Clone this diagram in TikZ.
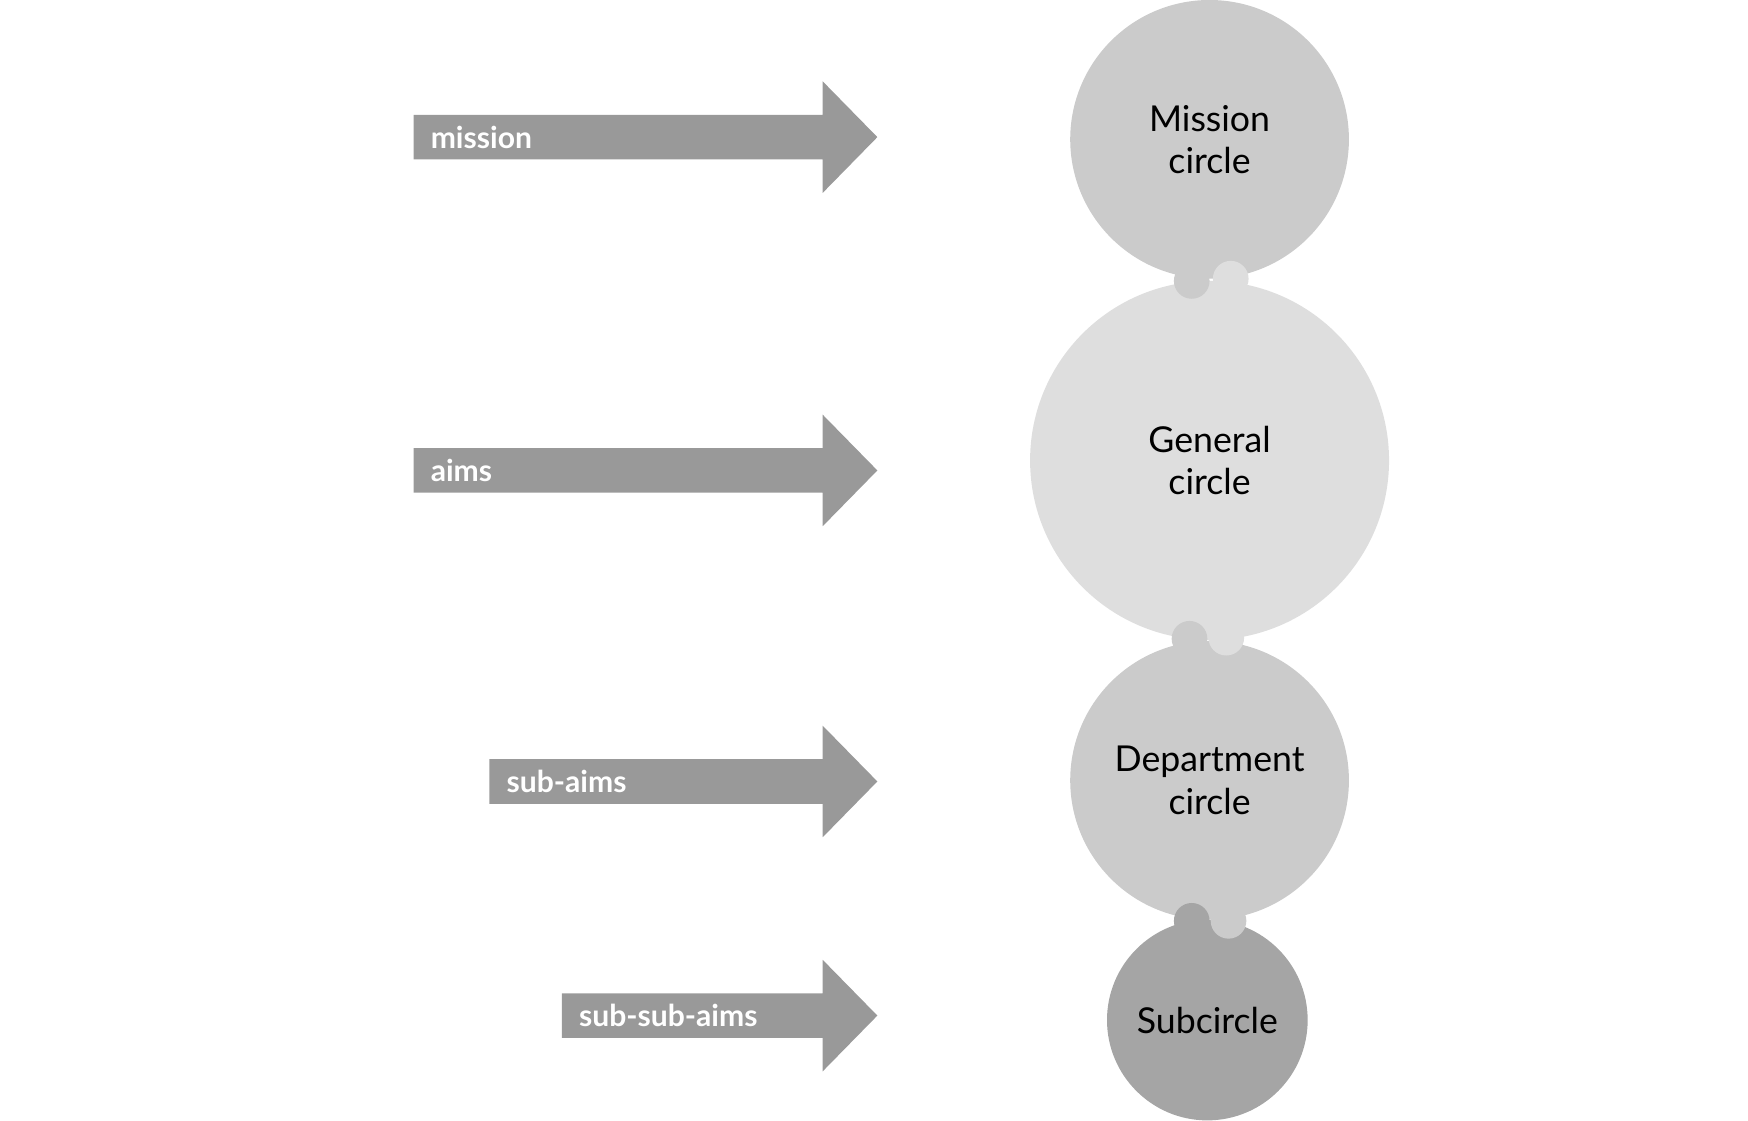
\documentclass[tikz,border=0pt]{standalone}
\usepackage{fontspec}
\setmainfont{Lato}
\begin{document}
\begin{tikzpicture}[x=0.5pt,y=-0.5pt,
  circ/.style={circle,inner sep=0pt,font=\fontsize{16}{19}\selectfont,align=center,text=black},
  arr/.style={fill=arrgray},
  lab/.style={anchor=west,text=white,font=\bfseries\fontsize{13.5}{15}\selectfont,inner sep=0pt}]
\definecolor{cA}{HTML}{CBCBCB}
\definecolor{cB}{HTML}{DEDEDE}
\definecolor{cD}{HTML}{A5A5A5}
\definecolor{arrgray}{HTML}{999999}
\useasboundingbox (0,0) rectangle (1568,1005);
% circles
\node[circ,fill=cA,minimum size=125pt] (mis) at (1085,125) {Mission\\circle};
\node[circ,fill=cB,minimum size=161pt] (gen) at (1085,413) {General\\circle};
\node[circ,fill=cA,minimum size=125pt] (dep) at (1085,700) {Department\\circle};
\node[circ,fill=cD,minimum size=90pt] (sub) at (1083,915) {Subcircle};
% knobs
\fill[cA] (1069,252) circle[radius=16];
\fill[cB] (1104,250) circle[radius=16];
\fill[cB] (1100,572) circle[radius=16];
\fill[cA] (1067,573) circle[radius=16];
\fill[cA] (1102,826) circle[radius=16];
\fill[cD] (1069,826) circle[radius=16];
% arrows
\foreach \xs/\yc/\t/\n in {371/123/mission/a1, 371/422/aims/a2, 439/701/sub-aims/a3, 504/911/sub-sub-aims/a4}{
  \fill[arr] (\xs,\yc-20) -- (738,\yc-20) -- (738,\yc-50) -- (787,\yc) -- (738,\yc+50) -- (738,\yc+20) -- (\xs,\yc+20) -- cycle;
  \node[lab] (\n) at (\xs+15,\yc) {\t};
}
\end{tikzpicture}
\end{document}
